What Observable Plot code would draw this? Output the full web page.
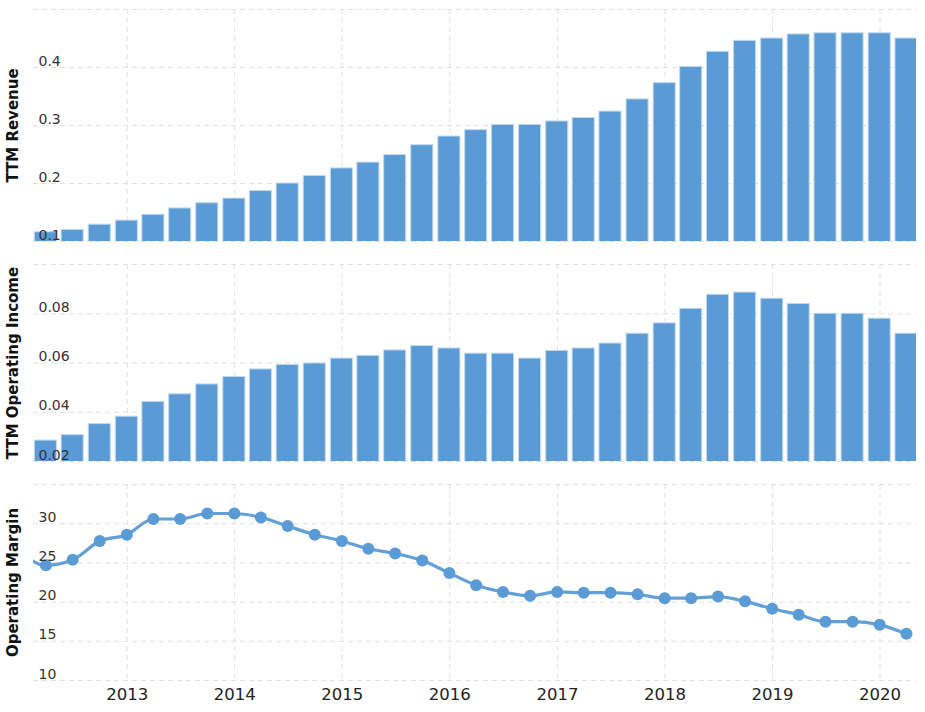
<!DOCTYPE html>
<html><head><meta charset="utf-8">
<script src="https://cdn.jsdelivr.net/npm/d3@7"></script>
<script src="https://cdn.jsdelivr.net/npm/@observablehq/plot@0.6"></script>
<style>
body{margin:0;background:#fff;}
#chart{position:relative;width:925px;height:712px;overflow:hidden;}
#chart svg{position:absolute;left:0;}
</style></head><body><div id="chart"></div>
<script>
const quarters = ["2012-03-31","2012-06-30","2012-09-30","2012-12-31",
  "2013-03-31","2013-06-30","2013-09-30","2013-12-31",
  "2014-03-31","2014-06-30","2014-09-30","2014-12-31",
  "2015-03-31","2015-06-30","2015-09-30","2015-12-31",
  "2016-03-31","2016-06-30","2016-09-30","2016-12-31",
  "2017-03-31","2017-06-30","2017-09-30","2017-12-31",
  "2018-03-31","2018-06-30","2018-09-30","2018-12-31",
  "2019-03-31","2019-06-30","2019-09-30","2019-12-31",
  "2020-03-31"];
const revenue = [0.116,0.120,0.129,0.136,0.146,0.157,0.166,0.174,0.187,0.200,0.213,0.226,0.236,0.249,0.266,0.281,0.292,0.301,0.301,0.307,0.313,0.324,0.345,0.373,0.401,0.427,0.446,0.450,0.457,0.459,0.459,0.459,0.450];
const income = [0.0285,0.0307,0.0352,0.0382,0.0442,0.0473,0.0513,0.0543,0.0574,0.0592,0.0598,0.0618,0.0629,0.0651,0.0669,0.0659,0.0638,0.0638,0.0618,0.0649,0.0659,0.0679,0.0719,0.0761,0.0820,0.0877,0.0886,0.0861,0.0840,0.0800,0.0800,0.0780,0.0719];
const marginDates = ["2011-12-31"].concat(quarters);
const margin = [26.5,24.7,25.4,27.8,28.6,30.6,30.6,31.3,31.3,30.8,29.7,28.6,27.8,26.8,26.2,25.3,23.7,22.15,21.3,20.8,21.3,21.2,21.2,21.0,20.5,20.5,20.7,20.1,19.15,18.4,17.5,17.5,17.1,15.95];

const years = ["2013","2014","2015","2016","2017","2018","2019","2020"];
const revGrid = [0.1,0.2,0.3,0.4,0.5];
const revTicks = [0.1,0.2,0.3,0.4];
const revTickLabels = ["0.1","0.2","0.3","0.4"];
const incGrid = [0.02,0.04,0.06,0.08,0.10];
const incTicks = [0.02,0.04,0.06,0.08];
const incTickLabels = ["0.02","0.04","0.06","0.08"];
const mGrid = [10,15,20,25,30,35];
const mTicks = [10,15,20,25,30];
const mTickLabels = ["10","15","20","25","30"];

const blue = "#5b9bd5";
const gridColor = "#e0e0e0";
const xDomain = [new Date("2012-02-18"), new Date("2020-05-04")];
const halfQ = 45.6 * 864e5;
const yearDates = years.map(y => new Date(y + "-01-01"));

const revData = quarters.map((q, i) => ({date: new Date(q), value: revenue[i]}));
const incData = quarters.map((q, i) => ({date: new Date(q), value: income[i]}));
const mData = marginDates.map((q, i) => ({date: new Date(q), value: margin[i]}));

const chart = document.getElementById("chart");

function panel(o) {
  const marks = [
    Plot.ruleY(o.grid, {y: d => d, stroke: gridColor, strokeDasharray: "5,4"}),
    Plot.ruleX(yearDates, {x: d => d, stroke: gridColor, strokeDasharray: "5,4"}),
    ...o.marks,
    Plot.text(o.ticks, {y: d => d, text: (d, i) => o.tickLabels[i], frameAnchor: "left", textAnchor: "start", lineAnchor: "bottom", dx: 5, dy: -2, fontSize: 14, fill: "#333"}),
    Plot.text([o.title], {text: d => d, frameAnchor: "left", textAnchor: "middle", lineAnchor: "middle", rotate: -90, dx: -20, fontSize: 15, fontWeight: "bold", fill: "#111"})
  ];
  if (o.xLabels) {
    marks.push(Plot.text(yearDates, {x: d => d, text: (d, i) => years[i], frameAnchor: "bottom", dy: 19, fontSize: 16.5, fill: "#222"}));
  }
  const svg = Plot.plot({
    width: 925,
    height: o.height,
    marginLeft: 33,
    marginRight: 9,
    marginTop: o.marginTop,
    marginBottom: o.marginBottom,
    x: {type: "utc", domain: xDomain, axis: null},
    y: {domain: o.yDomain, axis: null},
    style: {fontFamily: "DejaVu Sans, Verdana, sans-serif", background: "transparent", overflow: "visible"},
    marks
  });
  svg.style.top = o.top + "px";
  chart.appendChild(svg);
}

panel({
  top: 0, height: 250, marginTop: 9, marginBottom: 9, yDomain: [0.1, 0.5],
  grid: revGrid, ticks: revTicks, tickLabels: revTickLabels, title: "TTM Revenue",
  marks: [Plot.rectY(revData, {x1: d => new Date(+d.date - halfQ), x2: d => new Date(+d.date + halfQ), y: "value", fill: blue, stroke: "#c2d9ef", strokeWidth: 1, insetLeft: 2.4, insetRight: 2.4, clip: true})]
});
panel({
  top: 250, height: 214, marginTop: 14, marginBottom: 3, yDomain: [0.02, 0.10],
  grid: incGrid, ticks: incTicks, tickLabels: incTickLabels, title: "TTM Operating Income",
  marks: [Plot.rectY(incData, {x1: d => new Date(+d.date - halfQ), x2: d => new Date(+d.date + halfQ), y: "value", fill: blue, stroke: "#c2d9ef", strokeWidth: 1, insetLeft: 2.4, insetRight: 2.4, clip: true})]
});
panel({
  top: 464, height: 248, marginTop: 20, marginBottom: 32, yDomain: [10, 35],
  grid: mGrid, ticks: mTicks, tickLabels: mTickLabels, title: "Operating Margin", xLabels: true,
  marks: [
    Plot.line(mData, {x: "date", y: "value", stroke: "#63a0d8", strokeWidth: 3.2, curve: "monotone-x", clip: true}),
    Plot.dot(mData, {x: "date", y: "value", r: 6, fill: blue, clip: true})
  ]
});
</script></body></html>
